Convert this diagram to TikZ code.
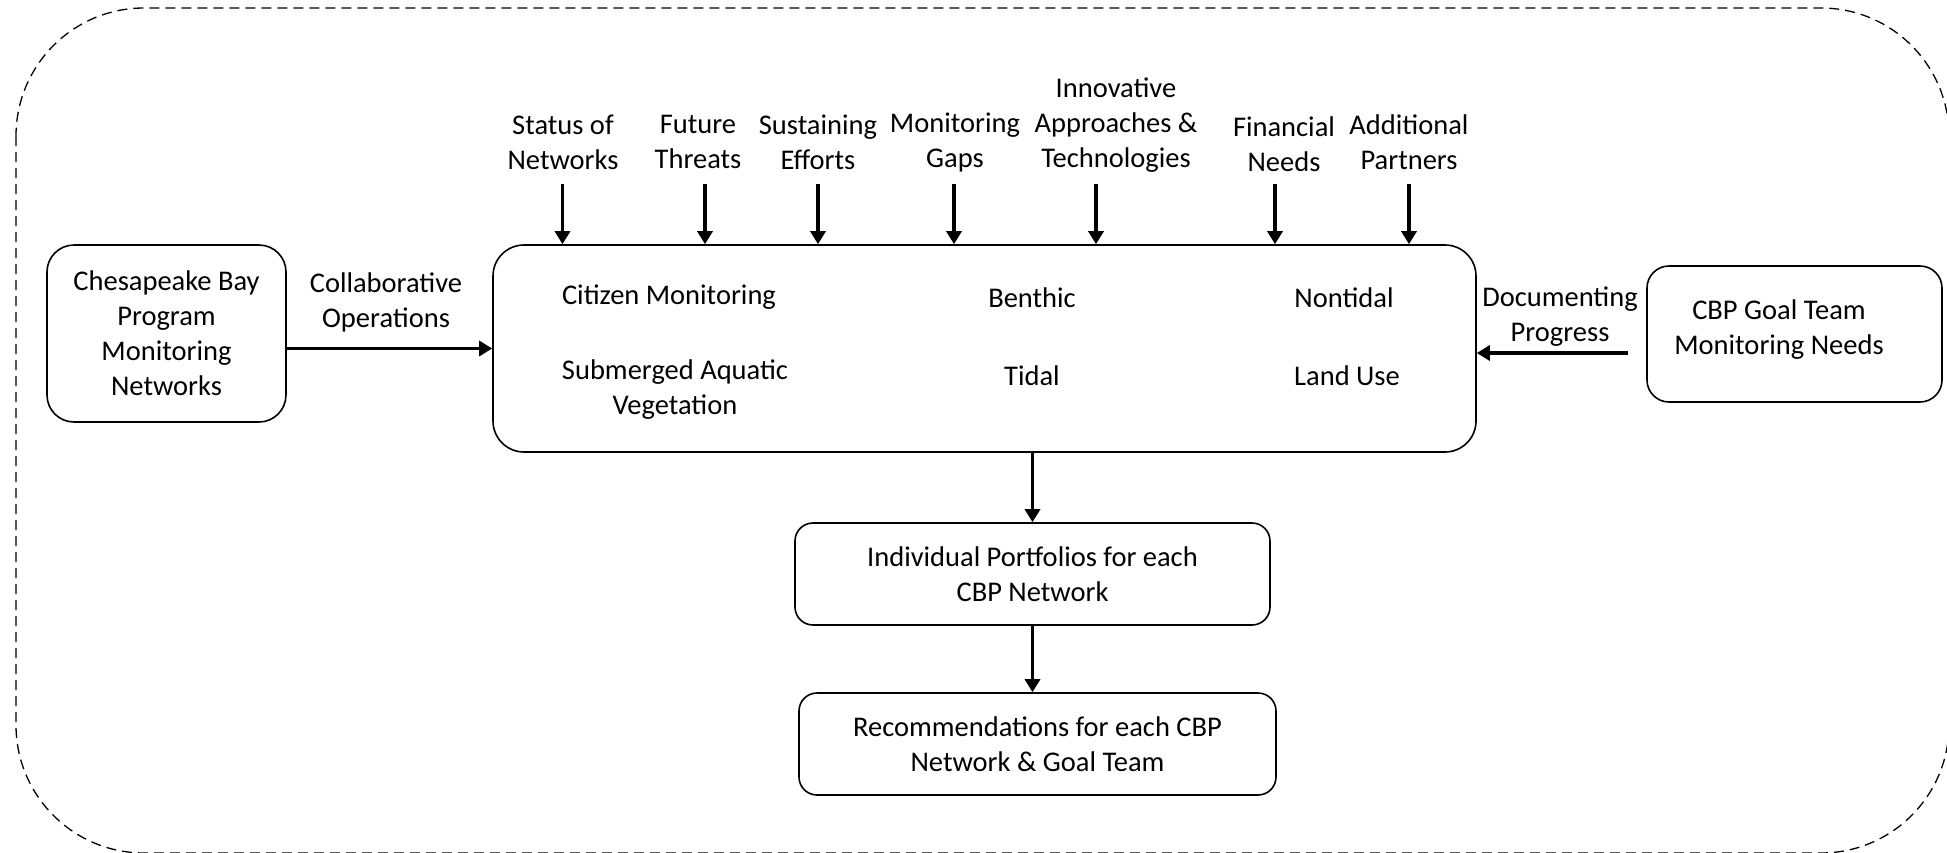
\documentclass[tikz,border=0pt]{standalone}
\usepackage{fontspec}
\setmainfont{Carlito}
\usetikzlibrary{arrows.meta}
\newcommand\myfs{\fontsize{28.5}{35}\selectfont}
\begin{document}
\begin{tikzpicture}[x=1pt,y=-1pt,
  box/.style={draw, line width=1.6pt, inner sep=0pt, align=center, font=\myfs},
  lbl/.style={align=center, font=\myfs, inner sep=0pt},
  arr/.style={line width=3.5pt, -{Triangle[width=15pt,length=13pt]}},
  border/.style={line width=1.3pt, dash pattern=on 10pt off 6pt, rounded corners=128pt}]
\useasboundingbox (0,0) rectangle (1947,852);
\draw[border] (16,8) rectangle (1949,853);

% boxes
\node[box, rounded corners=27pt, minimum width=239pt, minimum height=177pt] (cbp) at (166.5,333.5)
  {Chesapeake Bay\\Program\\Monitoring\\Networks};
\node[box, rounded corners=31pt, minimum width=983pt, minimum height=207pt] (main) at (984.5,348.5) {};
\node[box, rounded corners=18pt, minimum width=475pt, minimum height=102pt] (ind) at (1032.5,574)
  {Individual Portfolios for each\\CBP Network};
\node[box, rounded corners=18pt, minimum width=477pt, minimum height=102pt] (rec) at (1037.5,744)
  {Recommendations for each CBP\\Network \& Goal Team};
\node[box, rounded corners=22pt, minimum width=295pt, minimum height=136pt] (goal) at (1794.5,334) {};
\node[lbl] (goaltxt) at (1779,329.5) {CBP Goal Team\\Monitoring Needs};

% inner texts of main box
\node[lbl] (m1) at (669,297) {Citizen Monitoring};
\node[lbl] (m2) at (675,389.5) {Submerged Aquatic\\Vegetation};
\node[lbl] (m3) at (1032,298) {Benthic};
\node[lbl] (m4) at (1032,376) {Tidal};
\node[lbl] (m5) at (1344,298) {Nontidal};
\node[lbl] (m6) at (1347,376) {Land Use};

% top labels
\node[lbl] (t1) at (563,142) {Status of\\Networks};
\node[lbl] (t2) at (698,142) {Future\\Threats};
\node[lbl] (t3) at (818,142) {Sustaining\\Efforts};
\node[lbl] (t4) at (955,142) {Monitoring\\Gaps};
\node[lbl] (t5) at (1116,125.5) {Innovative\\Approaches \&\\Technologies};
\node[lbl] (t6) at (1284,144.5) {Financial\\Needs};
\node[lbl] (t7) at (1409,142) {Additional\\Partners};

% side labels
\node[lbl] (collab) at (386,302) {Collaborative\\Operations};
\node[lbl] (doc) at (1560,317) {Documenting\\Progress};

% top arrow starts
\coordinate (a1) at (562.5,184);
\coordinate (a2) at (705,184);
\coordinate (a3) at (818,184);
\coordinate (a4) at (954,184);
\coordinate (a5) at (1096,184);
\coordinate (a6) at (1275,184);
\coordinate (a7) at (1409,184);
\foreach \i in {1,...,7} {\draw[arr] (a\i) -- (a\i |- main.north);}

% side arrows
\draw[arr] (cbp.east |- main.west) -- (main.west);
\coordinate (dstart) at (1628,353);
\draw[arr] (dstart) -- (main.east |- dstart);

% down arrows
\draw[arr] (main.south -| ind.north) -- (ind.north);
\draw[arr] (ind.south) -- (ind.south |- rec.north);
\end{tikzpicture}
\end{document}
